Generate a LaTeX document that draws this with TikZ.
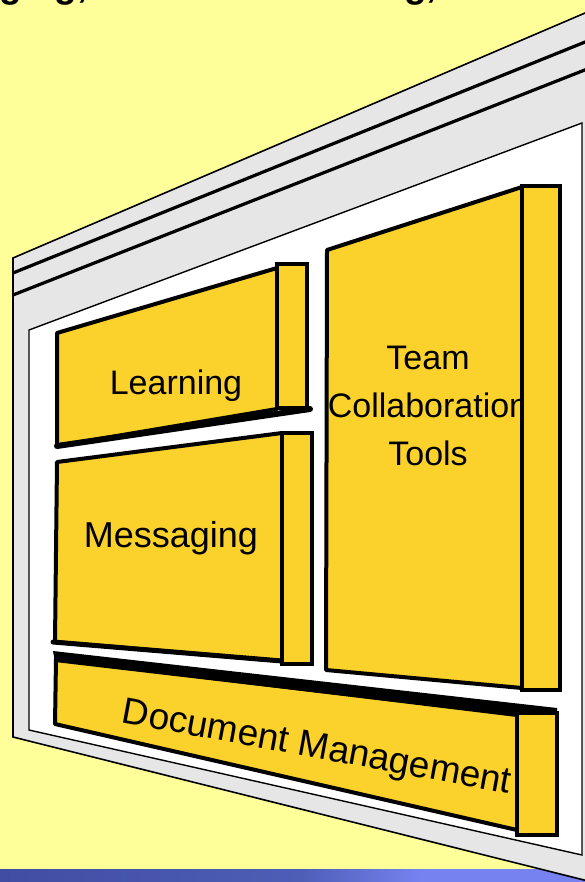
\documentclass[tikz,border=0pt]{standalone}
\usepackage{fontspec}
\setmainfont{Liberation Sans}
\definecolor{bgyellow}{HTML}{FFFF99}
\definecolor{framegray}{HTML}{E6E6E6}
\definecolor{boxyellow}{HTML}{FBD12C}
\definecolor{banddark}{HTML}{3F4EA2}
\definecolor{bandmid}{HTML}{4E5EB6}
\definecolor{bandlight}{HTML}{7682F0}
\begin{document}
\begin{tikzpicture}[x=1pt,y=-1pt]
\tikzset{
  facebox/.style={fill=boxyellow, draw=black, line width=4pt, line join=round},
  sidebox/.style={fill=boxyellow, draw=black, line width=4pt, line join=miter},
  shadowedge/.style={draw=black, line width=6pt, line cap=round},
  framepoly/.style={fill=framegray, draw=black, line width=1.6pt, line join=miter},
  panelpoly/.style={fill=white, draw=black, line width=1.4pt, line join=miter},
  railline/.style={draw=black, line width=3.2pt},
  boxtext/.style={font=\fontsize{34}{34}\selectfont, inner sep=0pt, text=black},
  bigtext/.style={font=\fontsize{36}{36}\selectfont, inner sep=0pt, text=black},
  doctext/.style={font=\fontsize{37}{37}\selectfont, inner sep=0pt, text=black},
  titletext/.style={font=\fontsize{37}{37}\selectfont\bfseries, inner sep=0pt, text=black}
}
\useasboundingbox (0,0) rectangle (585,882);
% background
\fill[bgyellow] (0,0) rectangle (585,882);
% bottom band
\shade[left color=banddark, right color=bandmid] (0,869) rectangle (300,882);
\shade[left color=bandmid, right color=bandlight] (300,869) rectangle (420,882);
\fill[bandlight] (420,869) rectangle (585,882);
% cut-off title line
\node[titletext, anchor=base west] (title) at (-114,-2) {Messaging, Document Sharing,};
% outer frame
\path[framepoly] (13,258) -- (600,6.6) -- (600,884) -- (13,737) -- cycle;
\draw[railline] (13,273) -- (600,36);
\draw[railline] (13,295) -- (600,64);
% inner white panel
\path[panelpoly] (29,330) -- (582,123) -- (582,855) -- (29,730) -- cycle;

% Learning
\path[facebox] (57,333) -- (277,268) -- (277,409) -- (57,446) -- cycle;
\draw[shadowedge] (57,446) -- (310,409);
\path[sidebox] (277,264) rectangle (307,408);
\node[boxtext, anchor=base] (learn) at (176,394) {Learning};

% Messaging
\path[facebox] (57,462) -- (282,433) -- (282,661) -- (55,642) -- cycle;
\draw[shadowedge, line width=5pt] (53,642) -- (282,661);
\path[sidebox] (282,433) rectangle (312,664);
\node[bigtext, anchor=base] (msg) at (171,547) {Messaging};

% Team Collaboration Tools
\path[facebox] (327,250) -- (522,187) -- (522,688) -- (326,670) -- cycle;
\node[boxtext, anchor=base] (team1) at (428,369) {Team};
\node[boxtext, anchor=base] (team2) at (428,417) {Collaboration};
\node[boxtext, anchor=base] (team3) at (428,465) {Tools};
\path[sidebox] (522,186) rectangle (560,690);

% Document Management
\path[facebox] (56,659) -- (517,715) -- (517,830) -- (55,724) -- cycle;
\fill[black] (53,651) -- (557,708) -- (557,715) -- (517,716) -- (55,662) -- cycle;
\node[doctext, anchor=base, rotate=-10.4] (doc) at (315,758) {Document Management};
\path[sidebox] (517,713) rectangle (557,835);
\end{tikzpicture}
\end{document}
